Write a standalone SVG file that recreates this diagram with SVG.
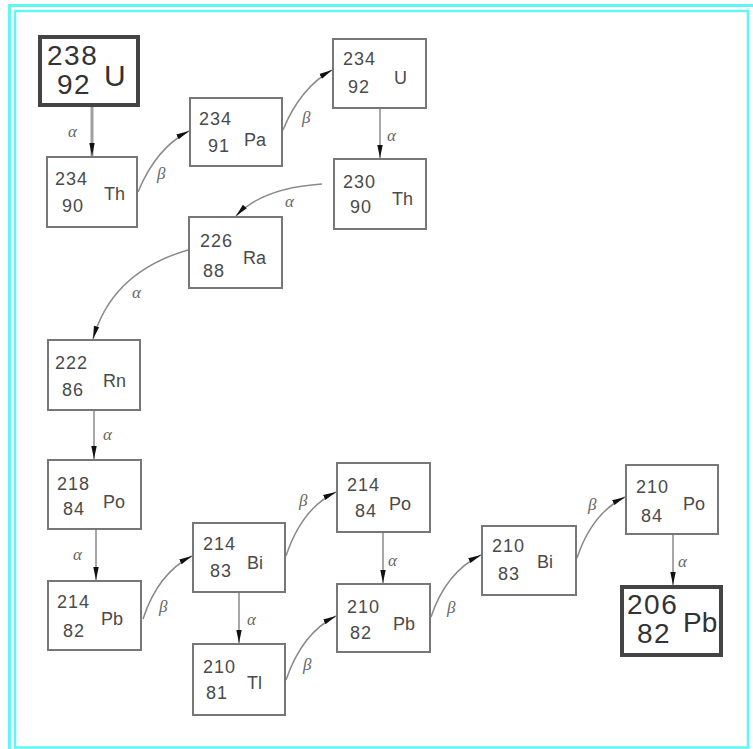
<svg xmlns="http://www.w3.org/2000/svg" width="753" height="749" viewBox="0 0 753 749">
<style>
.box{fill:#fff;stroke:#777;stroke-width:2}
.thick{fill:#fff;stroke:#444;stroke-width:4}
.n{font-family:"Liberation Sans",Arial,sans-serif;font-size:18px;fill:#4a4a4a;letter-spacing:1px}
.s{font-family:"Liberation Sans",Arial,sans-serif;font-size:18px;fill:#4a4a4a}
.big{font-family:"Liberation Sans",Arial,sans-serif;font-size:28px;fill:#333;letter-spacing:1.5px}
.c{fill:none;stroke:#8a8a8a;stroke-width:1.5;marker-end:url(#ah)}
.l{font-family:"Liberation Serif","Times New Roman",serif;font-style:italic;font-size:17px;fill:#666}
.frame{fill:none;stroke:#5ff6f6}
</style>
<defs>
<marker id="ah" markerUnits="userSpaceOnUse" markerWidth="14" markerHeight="8" refX="13" refY="3.5" orient="auto">
<path d="M0,0.8 L13,3.5 L0,6.2 z" fill="#111"/>
</marker>
</defs>
<rect width="753" height="749" fill="#fff"/>
<path class="frame" d="M9.5,749 V5.5 H753" stroke-width="3"/>
<rect class="frame" x="15" y="11" width="733" height="736.5" stroke-width="2.5"/>

<g id="connectors">
<path class="c" d="M92,107 V156" style="stroke:#a0a0a0;stroke-width:3"/>
<path class="c" d="M138,192 Q156,148 189,131"/>
<path class="c" d="M283,130 Q300,88 332,70"/>
<path class="c" d="M380,108 V158"/>
<path class="c" d="M322,184 Q262,188 236,216"/>
<path class="c" d="M188,250 Q112,272 93,339"/>
<path class="c" d="M94,411 V459"/>
<path class="c" d="M96,530 V580"/>
<path class="c" d="M143,619 Q158,573 192,556"/>
<path class="c" d="M239,593 V643"/>
<path class="c" d="M286,556 Q302,508 336,492"/>
<path class="c" d="M286,680 Q302,633 336,616"/>
<path class="c" d="M383,533 V583"/>
<path class="c" d="M431,617 Q446,572 481,555"/>
<path class="c" d="M577,558 Q592,513 625,497"/>
<path class="c" d="M673,535 V585"/>
<text class="l" x="68" y="137">α</text>
<text class="l" x="157" y="179">β</text>
<text class="l" x="302" y="123">β</text>
<text class="l" x="387" y="141">α</text>
<text class="l" x="285" y="207">α</text>
<text class="l" x="132" y="298">α</text>
<text class="l" x="103" y="440">α</text>
<text class="l" x="73" y="560">α</text>
<text class="l" x="159" y="612">β</text>
<text class="l" x="247" y="625">α</text>
<text class="l" x="299" y="506">β</text>
<text class="l" x="303" y="670">β</text>
<text class="l" x="388" y="566">α</text>
<text class="l" x="447" y="613">β</text>
<text class="l" x="588" y="510">β</text>
<text class="l" x="678" y="567">α</text>
</g>

<g id="U238"><rect class="thick" x="40" y="37" width="98" height="68"/>
<text class="big" x="47" y="65">238</text><text class="big" x="57" y="94">92</text><text class="big" x="104" y="86" style="font-size:30px">U</text></g>
<g id="Th234"><rect class="box" x="47" y="157" width="90" height="70"/>
<text class="n" x="55" y="185">234</text><text class="n" x="62" y="212">90</text><text class="s" x="104" y="200">Th</text></g>
<g id="Pa234"><rect class="box" x="190" y="98" width="92" height="68"/>
<text class="n" x="199" y="125">234</text><text class="n" x="208" y="152">91</text><text class="s" x="244" y="146">Pa</text></g>
<g id="U234"><rect class="box" x="333" y="39" width="93" height="69"/>
<text class="n" x="343" y="65">234</text><text class="n" x="348" y="93">92</text><text class="s" x="394" y="84">U</text></g>
<g id="Th230"><rect class="box" x="334" y="159" width="92" height="70"/>
<text class="n" x="343" y="188">230</text><text class="n" x="350" y="213">90</text><text class="s" x="392" y="205">Th</text></g>
<g id="Ra226"><rect class="box" x="189" y="217" width="93" height="71"/>
<text class="n" x="200" y="247">226</text><text class="n" x="203" y="277">88</text><text class="s" x="243" y="264">Ra</text></g>
<g id="Rn222"><rect class="box" x="48" y="340" width="92" height="70"/>
<text class="n" x="55" y="369">222</text><text class="n" x="62" y="396">86</text><text class="s" x="103" y="387">Rn</text></g>
<g id="Po218"><rect class="box" x="48" y="460" width="93" height="69"/>
<text class="n" x="57" y="490">218</text><text class="n" x="63" y="515">84</text><text class="s" x="103" y="508">Po</text></g>
<g id="Pb214"><rect class="box" x="48" y="581" width="93" height="69"/>
<text class="n" x="57" y="608">214</text><text class="n" x="63" y="637">82</text><text class="s" x="101" y="625">Pb</text></g>
<g id="Bi214"><rect class="box" x="193" y="523" width="92" height="69"/>
<text class="n" x="203" y="550">214</text><text class="n" x="210" y="577">83</text><text class="s" x="247" y="569">Bi</text></g>
<g id="Tl210"><rect class="box" x="193" y="644" width="92" height="71"/>
<text class="n" x="203" y="673">210</text><text class="n" x="206" y="699">81</text><text class="s" x="247" y="689">Tl</text></g>
<g id="Po214"><rect class="box" x="337" y="463" width="93" height="69"/>
<text class="n" x="347" y="491">214</text><text class="n" x="355" y="517">84</text><text class="s" x="389" y="510">Po</text></g>
<g id="Pb210"><rect class="box" x="337" y="584" width="93" height="68"/>
<text class="n" x="347" y="613">210</text><text class="n" x="350" y="639">82</text><text class="s" x="393" y="630">Pb</text></g>
<g id="Bi210"><rect class="box" x="482" y="526" width="94" height="69"/>
<text class="n" x="492" y="552">210</text><text class="n" x="498" y="580">83</text><text class="s" x="537" y="568">Bi</text></g>
<g id="Po210"><rect class="box" x="626" y="465" width="92" height="69"/>
<text class="n" x="636" y="493">210</text><text class="n" x="641" y="522">84</text><text class="s" x="683" y="510">Po</text></g>
<g id="Pb206"><rect class="thick" x="622" y="587" width="99" height="68"/>
<text class="big" x="627" y="614">206</text><text class="big" x="637" y="643">82</text><text class="big" x="683" y="632" style="letter-spacing:0">Pb</text></g>
</svg>
